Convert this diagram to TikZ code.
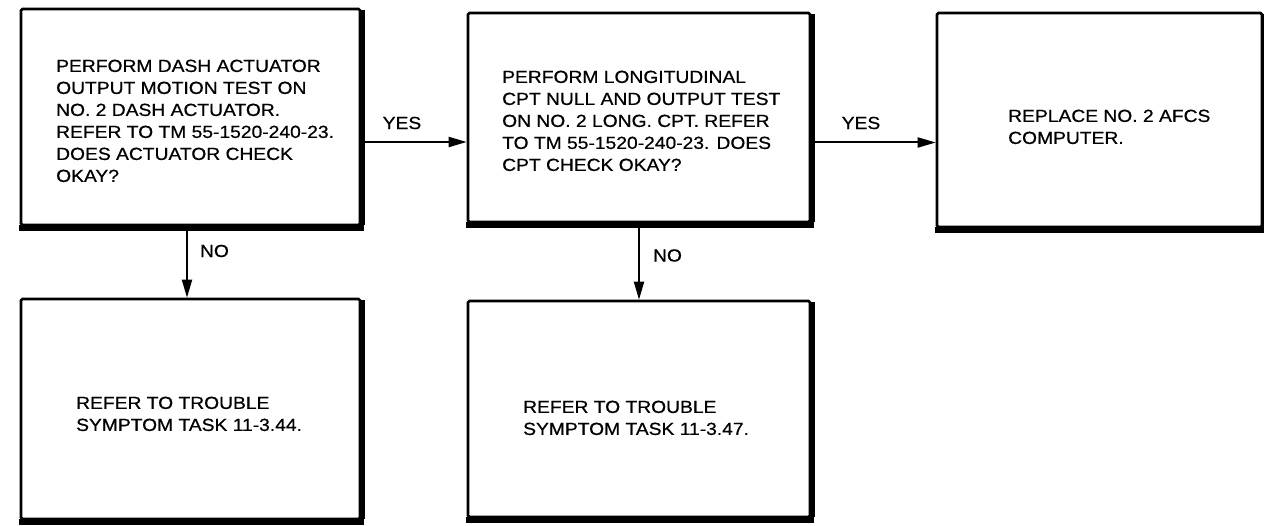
\documentclass[tikz,border=0pt]{standalone}
\usepackage{fontspec}
\setmainfont{Liberation Sans}[FakeStretch=1.1,FakeBold=0.6]
\usetikzlibrary{arrows.meta}
\begin{document}
\begin{tikzpicture}[x=1pt,y=-1pt,
  box/.style={draw=black, line width=2.6pt, rectangle, inner sep=0pt, fill=white, rounded corners=1.5pt},
  txt/.style={anchor=north west, inner sep=0pt, align=left, font=\fontsize{17.5}{22}\selectfont},
  lbl/.style={anchor=center, inner sep=0pt, font=\fontsize{17.5}{22}\selectfont},
  arr/.style={line width=2pt, -{Triangle[length=18pt,width=10pt]}},
  shadeb/.style={line width=6pt},
  shader/.style={line width=4.5pt}
]
\useasboundingbox[fill=white] (0,0) rectangle (1264,526);
% boxes
\node[box, minimum width=339pt, minimum height=216pt] (A) at (190.5,117) {};
\node[box, minimum width=342pt, minimum height=209pt] (B) at (639,117.5) {};
\node[box, minimum width=325pt, minimum height=214pt] (C) at (1099.5,120) {};
\node[box, minimum width=339pt, minimum height=220pt] (D) at (190.5,409) {};
\node[box, minimum width=342pt, minimum height=216pt] (E) at (639,409) {};
% heavy bottom and right edges
\foreach \n in {A,B,C,D,E}{
  \draw[shadeb] ([xshift=-1pt,yshift=-1.8pt]\n.south west) -- ([xshift=3pt,yshift=-1.8pt]\n.south east);
  \draw[shader] ([xshift=1pt,yshift=1pt]\n.south east) -- ([xshift=1pt,yshift=-2pt]\n.north east);
}
% texts
\node[txt] (tA) at (56,59.5) {PERFORM DASH ACTUATOR\\OUTPUT MOTION TEST ON\\NO. 2 DASH ACTUATOR.\\REFER TO TM 55-1520-240-23.\\DOES ACTUATOR CHECK\\OKAY?};
\node[txt] (tB) at (502,70.5) {PERFORM LONGITUDINAL\\CPT NULL AND OUTPUT TEST\\ON NO. 2 LONG. CPT. REFER\\TO TM 55-1520-240-23. DOES\\CPT CHECK OKAY?};
\node[txt] (tC) at (1008,109.5) {REPLACE NO. 2 AFCS\\COMPUTER.};
\node[txt] (tD) at (76,396.5) {REFER TO TROUBLE\\SYMPTOM TASK 11-3.44.};
\node[txt] (tE) at (523,400.5) {REFER TO TROUBLE\\SYMPTOM TASK 11-3.47.};
% connectors
\draw[arr] ([yshift=-25pt]A.east) -- ([yshift=-25pt]A.east -| B.west);
\draw[arr] ([yshift=-25pt]B.east) -- ([yshift=-25pt]B.east -| C.west);
\draw[arr] ([xshift=-3.5pt]A.south) -- ([xshift=-3.5pt]A.south |- D.north);
\draw[arr] (B.south) -- (B.south |- E.north);
% labels
\node[lbl] (y1) at (402,123) {YES};
\node[lbl] (y2) at (861,123) {YES};
\node[lbl] (n1) at (214.5,251) {NO};
\node[lbl] (n2) at (667.5,255.5) {NO};
\end{tikzpicture}
\end{document}
